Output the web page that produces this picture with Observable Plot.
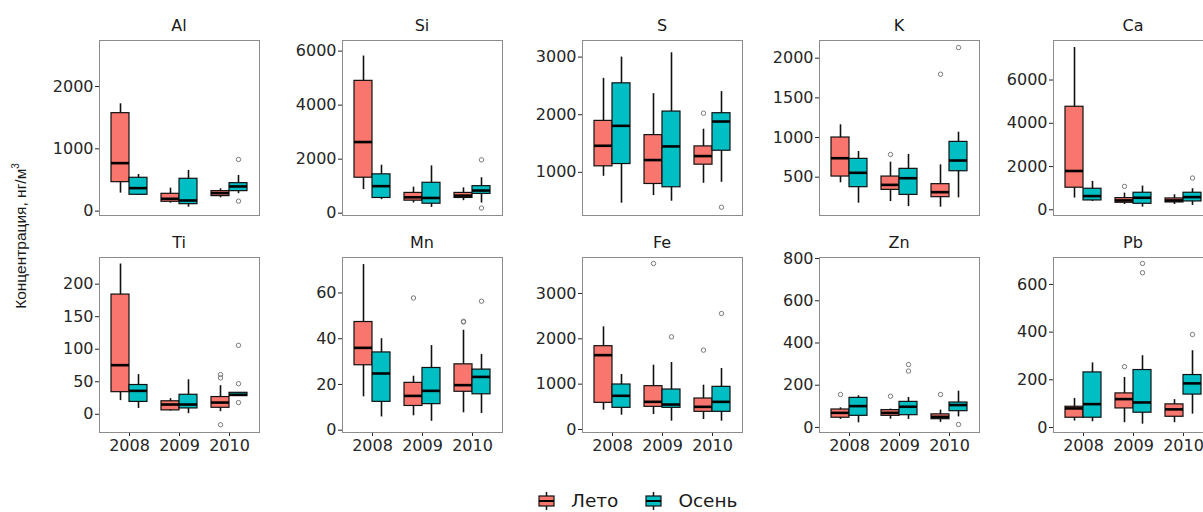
<!DOCTYPE html>
<html><head><meta charset="utf-8">
<script src="https://cdn.jsdelivr.net/npm/d3@7"></script>
<script src="https://cdn.jsdelivr.net/npm/@observablehq/plot@0.6"></script>
<style>
html,body{margin:0;padding:0;overflow:hidden;background:#fff;}
#chart{position:relative;width:1203px;height:512px;overflow:hidden;font-family:"DejaVu Sans",sans-serif;color:#1a1a1a;}
.panel{position:absolute;}
.strip{position:absolute;width:160px;text-align:center;font-size:16px;line-height:16px;color:#1a1a1a;}
#ylab{position:absolute;left:20px;top:236px;transform:translate(-50%,-50%) rotate(-90deg);white-space:nowrap;font-family:"Liberation Sans",Arial,sans-serif;font-size:15.5px;color:#1a1a1a;}
#ylab sup{font-size:10px;}
#legend{position:absolute;left:538px;top:490px;display:flex;align-items:center;font-size:18.5px;color:#1a1a1a;}
#legend .item{display:flex;align-items:center;margin-right:27px;}
#legend svg{margin-right:16px;}
</style></head><body><div id="chart"></div>
<script>
// ---- data ----
const elements = ["Al", "Si", "S", "K", "Ca", "Ti", "Mn", "Fe", "Zn", "Pb"];
const years = [2008, 2009, 2010];
const seasons = ["Лето", "Осень"];
const seasonColors = ["#F8766D", "#00BFC4"];

// five-number summaries [lower whisker, Q1, median, Q3, upper whisker]
// rows: 2008 Лето, 2008 Осень, 2009 Лето, 2009 Осень, 2010 Лето, 2010 Осень
const Al = [[289, 465, 770, 1572, 1722], [251, 262, 369, 535, 588], [128, 150, 198, 278, 369], [64, 112, 171, 519, 652], [214, 241, 289, 321, 358], [280, 321, 396, 449, 572]];
const Si = [[875, 1313, 2633, 4899, 5817], [500, 563, 1000, 1438, 1775], [375, 463, 588, 750, 963], [213, 350, 563, 1125, 1750], [463, 563, 650, 750, 938], [375, 713, 838, 1000, 1313]];
const S  = [[931, 1104, 1461, 1893, 2631], [464, 1144, 1807, 2545, 3000], [597, 798, 1213, 1646, 2366], [499, 741, 1450, 2055, 3075], [810, 1133, 1282, 1450, 1749], [827, 1375, 1882, 2026, 2401]];
const K  = [[429, 508, 739, 1000, 1160], [172, 374, 555, 731, 824], [193, 340, 403, 508, 689], [130, 277, 487, 605, 786], [122, 248, 311, 412, 655], [240, 575, 710, 945, 1067]];
const Ca = [[541, 1021, 1794, 4764, 7502], [387, 433, 634, 974, 1315], [247, 325, 433, 541, 773], [124, 278, 557, 789, 1098], [247, 340, 433, 526, 696], [201, 387, 588, 789, 974]];
const Ti = [[21, 34, 75.5, 184, 231], [9, 19, 36, 45, 61], [5, 6, 15, 20, 24], [1, 9, 15, 30, 53], [4, 10, 18, 26.5, 44], [28, 28, 30, 33, 33]];
const Mn = [[14.6, 28.4, 36, 47.3, 72.4], [5.8, 12.4, 24.8, 34, 40], [6.3, 10.6, 15, 20.7, 23.6], [3.9, 11.4, 17.2, 27.2, 37], [7.6, 16.8, 19.7, 28.8, 43.7], [7.3, 15.7, 23.3, 26.5, 33.1]];
const Fe = [[426, 588, 1640, 1838, 2265], [316, 478, 743, 993, 1213], [331, 500, 610, 956, 1419], [184, 478, 551, 882, 1478], [221, 390, 500, 684, 978], [184, 390, 610, 941, 1346]];
const Zn = [[38, 46, 69, 85, 93], [22, 55, 101, 140, 150], [39, 55, 69, 82, 87], [38, 58, 98, 121, 142], [24, 39, 50, 62, 82], [50, 77, 106, 118, 172]];
const Pb = [[27, 41, 80, 87, 122], [24, 41, 98, 231, 271], [20, 80, 119, 143, 210], [14, 62, 105, 241, 301], [20, 45, 76, 97, 117], [56, 138, 185, 220, 322]];

// outliers [element, year, season, value]
const outliers = [
  ["Al", 2010, "Осень", 829], ["Al", 2010, "Осень", 160],
  ["Si", 2010, "Осень", 1975], ["Si", 2010, "Осень", 188],
  ["S", 2010, "Лето", 2026], ["S", 2010, "Осень", 395],
  ["K", 2009, "Лето", 786], ["K", 2010, "Лето", 1798], ["K", 2010, "Осень", 2134],
  ["Ca", 2009, "Лето", 1083], ["Ca", 2010, "Осень", 1469],
  ["Ti", 2010, "Лето", 61], ["Ti", 2010, "Лето", 56], ["Ti", 2010, "Лето", -16],
  ["Ti", 2010, "Осень", 106], ["Ti", 2010, "Осень", 47], ["Ti", 2010, "Осень", 18],
  ["Mn", 2009, "Лето", 57.8], ["Mn", 2010, "Лето", 47.3], ["Mn", 2010, "Лето", 47.6], ["Mn", 2010, "Осень", 56.4],
  ["Fe", 2009, "Лето", 3662], ["Fe", 2009, "Осень", 2044], ["Fe", 2010, "Лето", 1750], ["Fe", 2010, "Осень", 2559],
  ["Zn", 2008, "Лето", 156], ["Zn", 2009, "Лето", 148], ["Zn", 2009, "Осень", 298], ["Zn", 2009, "Осень", 267],
  ["Zn", 2010, "Лето", 156], ["Zn", 2010, "Осень", 14],
  ["Pb", 2009, "Лето", 255], ["Pb", 2009, "Осень", 688], ["Pb", 2009, "Осень", 649], ["Pb", 2010, "Осень", 390]
];

// y axis extents and tick values, in element order
const yDomains = [[-70, 2738], [-86, 6393], [251, 3288], [17, 2223], [-263, 7827], [-28, 241], [-1, 75.5], [-66, 3794], [-24, 805], [-21, 713]];
const yTicks = [[0, 1000, 2000], [0, 2000, 4000, 6000], [1000, 2000, 3000], [500, 1000, 1500, 2000], [0, 2000, 4000, 6000],
  [0, 50, 100, 150, 200], [0, 20, 40, 60], [0, 1000, 2000, 3000], [0, 200, 400, 600, 800], [0, 200, 400, 600]];

// ---- build ----
const summaries = {Al, Si, S, K, Ca, Ti, Mn, Fe, Zn, Pb};
const dodge = 0.36; // box width in year units (position_dodge)
const boxLeft = d => d.year + (d.season === seasons[0] ? -dodge : 0);
const boxRight = d => boxLeft(d) + dodge;
const boxMid = d => boxLeft(d) + dodge / 2;

const colLeft = [99, 342, 582, 819, 1053];
const rowTop = [40, 257];
const panelW = 160, panelH = 175;
const chart = document.getElementById("chart");
const font = '"DejaVu Sans", sans-serif';
const plain = d => String(d);

elements.forEach((el, k) => {
  const row = Math.floor(k / 5), col = k % 5;
  const boxes = summaries[el].map((s, i) => ({
    year: years[Math.floor(i / 2)], season: seasons[i % 2],
    lo: s[0], q1: s[1], med: s[2], q3: s[3], hi: s[4]
  }));
  const outs = outliers.filter(o => o[0] === el).map(o => ({year: o[1], season: o[2], value: o[3]}));
  const mL = 58, mR = 2, mT = 2, mB = row === 1 ? 26 : 2;
  const p = Plot.plot({
    width: panelW + mL + mR, height: panelH + mT + mB,
    marginLeft: mL, marginRight: mR, marginTop: mT, marginBottom: mB,
    style: {fontFamily: font, fontSize: "16px", color: "#262626", background: "transparent", overflow: "visible"},
    x: row === 1
      ? {domain: [2007.4, 2010.6], ticks: years, tickFormat: plain, tickSize: 4, tickPadding: 3, label: null, line: true}
      : {domain: [2007.4, 2010.6], ticks: [], label: null, line: true},
    y: {domain: yDomains[k], ticks: yTicks[k], tickFormat: plain, tickSize: 4, tickPadding: 2, label: null, line: true},
    color: {domain: seasons, range: seasonColors},
    marks: [
      Plot.frame({stroke: "#8c8c8c", strokeWidth: 1}),
      Plot.ruleX(boxes, {x: boxMid, y1: "lo", y2: "hi", stroke: "#111", strokeWidth: 1.6}),
      Plot.rect(boxes, {x1: boxLeft, x2: boxRight, y1: "q1", y2: "q3", fill: "season", stroke: "#111", strokeWidth: 1.2}),
      Plot.ruleY(boxes, {y: "med", x1: boxLeft, x2: boxRight, stroke: "#000", strokeWidth: 2.6}),
      Plot.dot(outs, {x: boxMid, y: "value", r: 2.2, stroke: "#7a7a7a", fill: "none", strokeWidth: 1})
    ]
  });
  p.classList.add("panel");
  p.style.left = (colLeft[col] - mL) + "px";
  p.style.top = (rowTop[row] - mT) + "px";
  chart.appendChild(p);
  const strip = document.createElement("div");
  strip.className = "strip";
  strip.textContent = el;
  strip.style.left = colLeft[col] + "px";
  strip.style.top = (rowTop[row] - 22) + "px";
  chart.appendChild(strip);
});

const ylab = document.createElement("div");
ylab.id = "ylab";
ylab.innerHTML = "Концентрация, нг/м<sup>3</sup>";
chart.appendChild(ylab);

const legend = document.createElement("div");
legend.id = "legend";
seasons.forEach((s, i) => {
  const item = document.createElement("div");
  item.className = "item";
  item.innerHTML = `<svg width="17" height="20" viewBox="0 0 17 20"><line x1="8.5" y1="1" x2="8.5" y2="19" stroke="#111" stroke-width="1.5"/><rect x="1" y="5" width="15" height="10" fill="${seasonColors[i]}" stroke="#111" stroke-width="1.2"/><line x1="1" y1="10" x2="16" y2="10" stroke="#000" stroke-width="2"/></svg><span>${s}</span>`;
  legend.appendChild(item);
});
chart.appendChild(legend);
</script>
</body></html>
